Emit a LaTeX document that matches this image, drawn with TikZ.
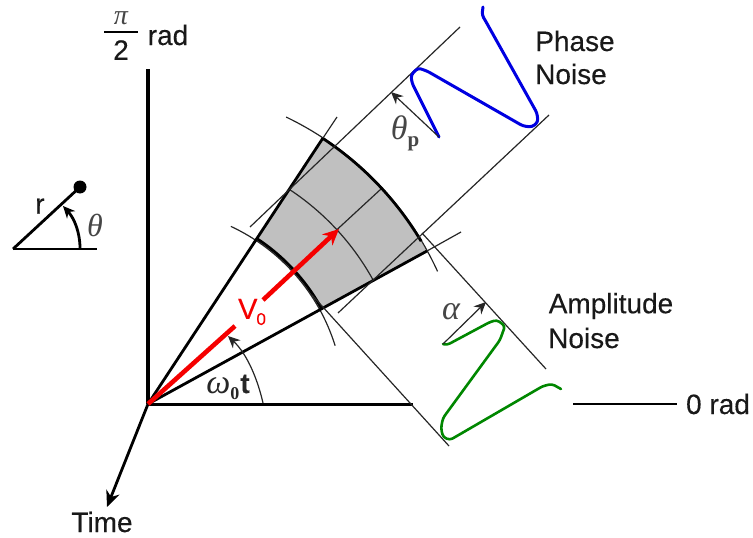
\documentclass[tikz,border=0pt]{standalone}
\usepackage{fontspec}
\setmainfont{Liberation Sans}[FakeBold=0.25]
\newfontfamily\grk{Liberation Serif}
\usetikzlibrary{arrows.meta}
\definecolor{sectorgray}{RGB}{192,192,192}
\definecolor{mathgray}{RGB}{70,70,70}
\definecolor{bluecurve}{RGB}{0,0,225}
\definecolor{greencurve}{RGB}{0,135,0}
\definecolor{redvec}{RGB}{245,0,0}
\tikzset{
  heavy/.style={line width=3.2pt,black},
  medium/.style={line width=2.8pt,black},
  hair/.style={line width=1.2pt,black!85},
  lbl/.style={font=\fontsize{28}{32}\selectfont,inner sep=0pt,text=black!90},
  grlbl/.style={inner sep=0pt,text=mathgray},
  tip/.style={-{Stealth[length=16pt,width=14pt]}},
  smalltip/.style={-{Stealth[length=12pt,width=11pt]}},
  noise/.style={line width=3pt,line join=round,line cap=round,rounded corners=3pt},
}
\begin{document}
\begin{tikzpicture}[x=1pt,y=1pt]
\useasboundingbox (0,0) rectangle (753,-538);
% named points
\coordinate (O) at (148,-404);
\coordinate (Ytop) at (148,-69);
\coordinate (Xend) at (413,-404);
\coordinate (Tend) at (107,-507);
\coordinate (Ztart) at (573,-404);
\coordinate (Zend) at (677,-404);
\coordinate (UE) at (323,-138);
\coordinate (UEx) at (337,-117);
\coordinate (LE) at (427,-251);
\coordinate (LEx) at (461,-232);
\coordinate (Vone) at (235,-326);
\coordinate (Vtwo) at (263,-300);
\coordinate (Vtip) at (339,-229);
% sector
\begin{scope}[shift={(148,-404)}]
  \fill[sectorgray] (56.7:198) arc[start angle=56.7,end angle=28.7,radius=198pt]
     -- (28.7:318) arc[start angle=28.7,end angle=56.7,radius=318pt] -- cycle;
  \draw[hair] (65:196) arc[start angle=65,end angle=17.3,radius=196pt];
  \draw[hair] (64.3:318.5) arc[start angle=64.3,end angle=24.6,radius=318.5pt];
  \draw[hair] (56.7:257) arc[start angle=56.7,end angle=28.7,radius=257pt];
  \draw[hair] (42.7:257) -- (42.7:318);
  \draw[medium] (56.7:198) arc[start angle=56.7,end angle=28.7,radius=198pt];
  \draw[medium] (56.7:318) arc[start angle=56.7,end angle=30.8,radius=318pt];
\end{scope}
% sector edges
\draw[medium] (O) -- (UE);
\draw[medium] (O) -- (LE);
\draw[hair] (UE) -- (UEx);
\draw[hair] (LE) -- (LEx);
% axes
\draw[heavy] (O) -- (Ytop);
\draw[medium,line width=3pt] (O) -- (Xend);
\draw[medium,tip] (O) -- (Tend);
\draw[medium,line width=2.8pt] (Ztart) -- (Zend);
% projection guides
\coordinate (PAa) at (250,-227); \coordinate (PAb) at (460,-27);
\coordinate (PBa) at (338,-313); \coordinate (PBb) at (549,-115);
\coordinate (AAa) at (422,-233); \coordinate (AAb) at (546,-369);
\coordinate (ABa) at (312,-295); \coordinate (ABb) at (449,-446);
\draw[hair] (PAa) -- (PAb);
\draw[hair] (PBa) -- (PBb);
\draw[hair] (AAa) -- (AAb);
\draw[hair] (ABa) -- (ABb);
% noise curves
\draw[noise,bluecurve] (483,-7) -- (482,-15) -- (485,-20) -- (537,-113) -- (538,-122) -- (532,-127) -- (523,-126)
  -- (427,-71) -- (418,-68) -- (411,-75) -- (412,-83) -- (439,-137);
\draw[noise,greencurve,line width=2.6pt] (443,-344) -- (447,-345) -- (490,-322) -- (497,-320) -- (505,-326)
  -- (500,-340) -- (443,-418) -- (441,-428) -- (443,-437) -- (450,-440)
  -- (543,-386) -- (552,-384) -- (561,-389);
% noise dimension arrows
\coordinate (Tpa) at (439,-137); \coordinate (Tpb) at (391,-92);
\coordinate (Ala) at (443,-344); \coordinate (Alb) at (486,-302);
\draw[hair,smalltip] (Tpa) -- (Tpb);
\draw[hair,smalltip] (Ala) -- (Alb);
% vector
\draw[redvec,line width=4.6pt] (O) -- (Vone);
\draw[redvec,line width=4.6pt,-{Stealth[length=16pt,width=15pt]}] (Vtwo) -- (Vtip);
% omega arc
\coordinate (Wa) at (263,-403); \coordinate (Wb) at (228,-336);
\draw[hair,smalltip] (Wa) .. controls (258,-381) and (248,-355) .. (Wb);
% polar legend
\coordinate (La) at (13,-249); \coordinate (Lb) at (97,-249); \coordinate (Lc) at (80,-187);
\coordinate (Ra) at (80,-248); \coordinate (Rb) at (63,-206);
\draw[medium] (La) -- (Lb);
\draw[medium] (La) -- (Lc);
\fill (Lc) circle (6.5pt);
\draw[medium,smalltip] (Ra) .. controls (80,-232) and (74,-218) .. (Rb);
% labels
\node[lbl] (rlabel) at (40,-206) {r};
\node[grlbl,font=\grk\itshape\fontsize{32}{36}\selectfont] (thlabel) at (95,-225) {θ};
\node[grlbl,font=\grk\itshape\fontsize{28}{32}\selectfont] (pilabel) at (121,-18) {π};
\coordinate (Fa) at (104,-32); \coordinate (Fb) at (138,-32);
\draw[line width=2.6pt,black] (Fa) -- (Fb);
\node[lbl] (twolabel) at (121,-50) {2};
\node[lbl] (radlabel) at (168,-35) {rad};
\node[lbl] (zerorad) at (718,-404) {0 rad};
\node[lbl] (timelabel) at (102,-522) {Time};
\node[lbl] (phase) at (575,-41) {Phase};
\node[lbl] (phasen) at (571,-74) {Noise};
\node[lbl] (amp) at (611,-306) {Amplitude};
\node[lbl] (ampn) at (584,-338) {Noise};
\node[inner sep=0pt,text=redvec,font=\fontsize{29}{32}\selectfont] (vlabel) at (252,-312) {V\kern-1pt\raisebox{-6pt}{\fontsize{17}{18}\selectfont 0}};
\node[grlbl,text=black!85,font=\grk\itshape\fontsize{34}{36}\selectfont] (omega) at (228,-387) {ω\raisebox{-6pt}{\upshape\bfseries\fontsize{18}{18}\selectfont 0}\hspace{1pt}{\rmfamily\upshape\bfseries\fontsize{28}{30}\selectfont t}};
\node[grlbl,font=\grk\itshape\fontsize{34}{36}\selectfont] (thetap) at (405,-133) {θ\raisebox{-7pt}{\upshape\bfseries\fontsize{21}{22}\selectfont p}};
\node[grlbl,font=\grk\itshape\fontsize{34}{36}\selectfont] (alpha) at (451,-312) {α};
\end{tikzpicture}
\end{document}
